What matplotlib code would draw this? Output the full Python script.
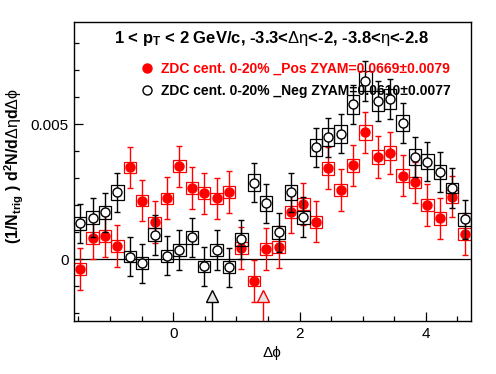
import numpy as np
import matplotlib
matplotlib.use("Agg")
import matplotlib.pyplot as plt
from matplotlib.patches import Rectangle
from matplotlib.lines import Line2D
from matplotlib.ticker import MultipleLocator

plt.rcParams['font.family'] = ['Liberation Sans', 'DejaVu Sans']
plt.rcParams['mathtext.fontset'] = 'custom'
plt.rcParams['mathtext.rm'] = 'Liberation Sans'
plt.rcParams['mathtext.bf'] = 'Liberation Sans:bold'
plt.rcParams['mathtext.default'] = 'regular'

# 32 bins in delta phi from -pi/2 to 3pi/2
nbins = 32
edges = np.linspace(-np.pi / 2, 3 * np.pi / 2, nbins + 1)
dphi = 0.5 * (edges[:-1] + edges[1:])
bw = edges[1] - edges[0]

# ZDC cent. 0-20% _Pos (red, filled)
pos_y = [-0.00037, 0.00079, 0.00085, 0.00048, 0.00340, 0.00217, 0.00137, 0.00226,
         0.00344, 0.00264, 0.00244, 0.00225, 0.00248, 0.00041, -0.00080, 0.00038,
         0.00045, 0.00174, 0.00204, 0.00139, 0.00337, 0.00257, 0.00348, 0.00470,
         0.00378, 0.00394, 0.00310, 0.00285, 0.00200, 0.00151, 0.00232, 0.00094]
pos_err = [0.00077] * 32
pos_sys = [0.00022, 0.00022, 0.00022, 0.00022, 0.00021, 0.00021, 0.00021, 0.00021,
           0.00022, 0.00022, 0.00022, 0.00022, 0.00022, 0.00021, 0.00018, 0.00021,
           0.00021, 0.00022, 0.00022, 0.00022, 0.00024, 0.00023, 0.00024, 0.00027,
           0.00025, 0.00025, 0.00023, 0.00020, 0.00022, 0.00023, 0.00024, 0.00022]

# ZDC cent. 0-20% _Neg (black, open)
neg_y = [0.00133, 0.00154, 0.00174, 0.00248, 0.00010, -0.00015, 0.00090, 0.00013,
         0.00034, 0.00081, -0.00027, 0.00034, -0.00030, 0.00074, 0.00284, 0.00207,
         0.00100, 0.00248, 0.00156, 0.00415, 0.00452, 0.00465, 0.00574, 0.00660,
         0.00586, 0.00593, 0.00505, 0.00378, 0.00361, 0.00323, 0.00264, 0.00148]
neg_err = [0.00073] * 32
neg_sys = [0.00025, 0.00025, 0.00025, 0.00028, 0.00022, 0.00022, 0.00024, 0.00022,
           0.00022, 0.00024, 0.00022, 0.00022, 0.00022, 0.00024, 0.00030, 0.00027,
           0.00024, 0.00028, 0.00024, 0.00032, 0.00033, 0.00033, 0.00036, 0.00037,
           0.00036, 0.00036, 0.00031, 0.00030, 0.00028, 0.00026, 0.00020, 0.00025]

# ZYAM positions (arrows)
zyam_x = [0.615, 1.415]
zyam_col = ['black', 'red']
zyam_mark_y = -0.00137

fig = plt.figure(figsize=(4.96, 3.74), dpi=100)
ax = fig.add_axes([0.1492, 0.1417, 0.800, 0.7995])
ax.set_xlim(-np.pi / 2, 3 * np.pi / 2)
ax.set_ylim(-0.00229, 0.00879)

ax.axhline(0, color='black', lw=0.9, zorder=1)

for x, y, s in zip(dphi, pos_y, pos_sys):
    ax.add_patch(Rectangle((x - bw / 2, y - s), bw, 2 * s, fill=False,
                           edgecolor='red', lw=0.9, zorder=2))
ax.errorbar(dphi, pos_y, yerr=pos_err, fmt='o', color='red', ms=6.5,
            mec='red', mfc='red', elinewidth=1.0, capsize=2.3, capthick=1.0, zorder=3)

for x, y, s in zip(dphi, neg_y, neg_sys):
    ax.add_patch(Rectangle((x - bw / 2, y - s), bw, 2 * s, fill=False,
                           edgecolor='black', lw=0.9, zorder=4))
ax.errorbar(dphi, neg_y, yerr=neg_err, fmt='o', color='black', ms=6.5,
            mec='black', mfc='white', mew=1.0, elinewidth=1.0, capsize=2.3,
            capthick=1.0, zorder=5)

for x, c in zip(zyam_x, zyam_col):
    ax.vlines(x, -0.00229, zyam_mark_y - 0.0002, color=c, lw=1.0, zorder=3)
    ax.plot([x], [zyam_mark_y], marker='^', ms=8, mec=c, mfc='#e6e6e6',
            mew=1.0, zorder=6)

ax.xaxis.set_major_locator(MultipleLocator(2))
ax.xaxis.set_minor_locator(MultipleLocator(0.5))
ax.yaxis.set_major_locator(MultipleLocator(0.005))
ax.yaxis.set_minor_locator(MultipleLocator(0.001))
ax.yaxis.set_major_formatter(matplotlib.ticker.FuncFormatter(
    lambda v, p: '0' if abs(v) < 1e-9 else '%.3f' % v))
ax.tick_params(which='both', direction='in', top=False, right=False, labelsize=11)
ax.tick_params(which='major', length=6.5, width=0.9, pad=4)
ax.tick_params(which='minor', length=3.6, width=0.9)
for sp in ax.spines.values():
    sp.set_linewidth(1.0)

ax.set_xlabel('Δϕ', fontsize=11, labelpad=4)
ax.set_ylabel(r'(1/N$_{trig}$ ) d$^{2}$N/d$\mathrm{Δη}$d$\mathrm{Δϕ}$', fontsize=11.5,
              fontweight='bold')
ax.yaxis.set_label_coords(-0.12, 0.517)

fig.text(271.5 / 496, 1 - 43.3 / 374,
         r'1 < p$_{T}$ < 2 GeV/c, -3.3<$\mathrm{Δη}$<-2, -3.8<$\mathrm{η}$<-2.8',
         ha='center', va='baseline', fontsize=12, fontweight='bold')

handles = [Line2D([], [], ls='none', marker='o', ms=6.5, mec='red', mfc='red'),
           Line2D([], [], ls='none', marker='o', ms=6.5, mec='black', mfc='white')]
labels = ['ZDC cent. 0-20% _Pos ZYAM=0.0669±0.0079',
          'ZDC cent. 0-20% _Neg ZYAM=0.0610±0.0077']
leg = ax.legend(handles, labels, loc='upper left', bbox_to_anchor=(0.168, 0.868),
                frameon=False, prop={'weight': 'bold', 'size': 10},
                handlelength=0.9, handletextpad=0.55, borderpad=0, borderaxespad=0,
                labelspacing=0.62, labelcolor=['red', 'black'])
leg.set_zorder(10)

fig.savefig('out.png', dpi=100)
